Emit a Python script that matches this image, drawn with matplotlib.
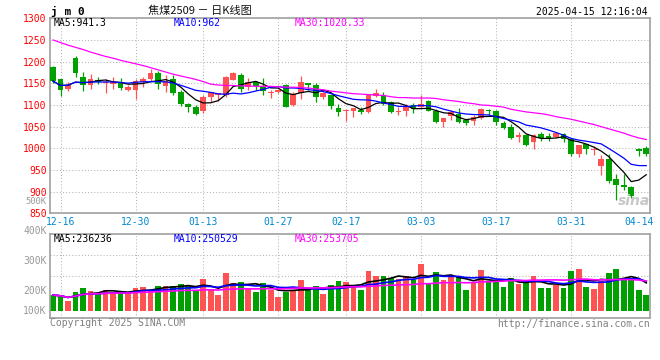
import numpy as np
import pandas as pd
import matplotlib
matplotlib.use('Agg')
import matplotlib.pyplot as plt

# Daily K-line data for 焦煤2509 (jm0)
opens = [1188, 1160, 1136, 1209, 1165, 1145, 1158, 1151, 1148, 1150,
         1134, 1134, 1154, 1161, 1174, 1143, 1161, 1131, 1103, 1096,
         1087, 1118, 1123, 1122, 1158, 1169, 1141, 1152, 1143, 1128,
         1129, 1147, 1099, 1128, 1151, 1145, 1119, 1122, 1094, 1085,
         1086, 1089, 1083, 1120, 1124, 1107, 1083, 1085, 1099, 1096,
         1110, 1086, 1060, 1075, 1078, 1066, 1064, 1069, 1089, 1087,
         1058, 1050, 1026, 1030, 1014, 1034, 1028, 1027, 1034, 1021,
         987, 1009, 997, 959, 976, 929, 915, 910, 999, 1001]
closes = [1155, 1135, 1147, 1174, 1146, 1161, 1153, 1154, 1153, 1139,
          1141, 1155, 1160, 1174, 1148, 1156, 1127, 1102, 1095, 1080,
          1119, 1129, 1127, 1164, 1174, 1137, 1154, 1143, 1132, 1131,
          1135, 1096, 1126, 1154, 1145, 1119, 1128, 1097, 1083, 1089,
          1094, 1083, 1123, 1128, 1102, 1083, 1086, 1095, 1091, 1103,
          1087, 1060, 1069, 1083, 1060, 1058, 1073, 1091, 1086, 1060,
          1047, 1023, 1030, 1007, 1030, 1024, 1023, 1035, 1022, 988,
          1007, 998, 999, 976, 925, 915, 910, 890, 993, 987]
highs = [1190, 1161, 1152, 1212, 1177, 1171, 1165, 1160, 1165, 1163,
         1145, 1161, 1164, 1183, 1179, 1169, 1169, 1135, 1105, 1100,
         1122, 1131, 1127, 1166, 1177, 1173, 1163, 1155, 1163, 1135,
         1137, 1148, 1131, 1167, 1151, 1151, 1129, 1124, 1102, 1091,
         1094, 1096, 1125, 1137, 1131, 1110, 1095, 1102, 1105, 1122,
         1112, 1090, 1071, 1089, 1094, 1068, 1077, 1093, 1091, 1089,
         1063, 1057, 1037, 1034, 1034, 1037, 1036, 1038, 1036, 1022,
         1008, 1011, 1005, 984, 988, 940, 941, 913, 1001, 1005]
lows = [1150, 1120, 1132, 1164, 1132, 1138, 1148, 1127, 1136, 1134,
        1132, 1114, 1141, 1155, 1138, 1131, 1122, 1097, 1083, 1078,
        1082, 1108, 1110, 1118, 1157, 1129, 1135, 1135, 1122, 1115,
        1128, 1095, 1097, 1114, 1135, 1108, 1114, 1091, 1074, 1064,
        1073, 1080, 1081, 1118, 1099, 1081, 1076, 1074, 1081, 1093,
        1085, 1058, 1049, 1065, 1059, 1054, 1053, 1067, 1077, 1053,
        1044, 1021, 1014, 1005, 999, 1016, 1018, 1025, 1014, 982,
        980, 987, 985, 938, 920, 881, 904, 886, 982, 982]
# volume in thousands of lots
volumes = [180, 172, 152, 195, 215, 202, 188, 205, 195, 195,
           188, 215, 220, 205, 225, 225, 225, 235, 225, 200,
           260, 205, 180, 290, 240, 245, 210, 197, 240, 205,
           170, 195, 205, 255, 205, 225, 185, 230, 250, 245,
           225, 205, 300, 275, 275, 265, 260, 277, 255, 335,
           240, 295, 255, 275, 275, 205, 245, 305, 250, 255,
           220, 265, 235, 240, 275, 215, 215, 230, 215, 300,
           310, 220, 210, 250, 290, 310, 255, 255, 205, 180]
ma30_price = [1250, 1244, 1238, 1233, 1228, 1222, 1217, 1212, 1208, 1203,
              1199, 1195, 1191, 1186, 1181, 1176, 1171, 1167, 1163, 1159,
              1154, 1148, 1146, 1145, 1145, 1144, 1144, 1143, 1143, 1143,
              1142, 1141, 1141, 1140, 1139, 1137, 1135, 1132, 1130, 1128,
              1126, 1125, 1124, 1123, 1122, 1119, 1117, 1117, 1116, 1116,
              1116, 1115, 1112, 1110, 1108, 1105, 1103, 1100, 1099, 1097,
              1095, 1090, 1087, 1084, 1082, 1080, 1077, 1073, 1070, 1067,
              1063, 1059, 1055, 1050, 1045, 1040, 1035, 1029, 1024, 1020.33]

tick_idx = [1, 11, 20, 30, 39, 49, 59, 69, 78]
tick_labels = ['12-16', '12-30', '01-13', '01-27', '02-17', '03-03', '03-17', '03-31', '04-14']
price_ticks = [1300, 1250, 1200, 1150, 1100, 1050, 1000, 950, 900, 850]
vol_labels = ['500K', '400K', '300K', '200K', '100K']
vol_label_y = [202, 231, 261, 291, 311]   # pixel rows of the labels in the original

RED = '#FF5252'
GREEN = '#00A000'
GRID = '#B4B4B4'
FRAME = '#A0A0A0'
DATE_BLUE = '#0088D0'
MONO = 'DejaVu Sans Mono'
W, H = 660, 360


def px(x, y):
    return x / W, 1 - y / H


def style_axes(ax):
    for s in ax.spines.values():
        s.set_color(FRAME)
        s.set_linewidth(1.2)
    ax.tick_params(length=0)
    ax.set_xlim(-0.4, 79.5)


fig = plt.figure(figsize=(6.6, 3.6), dpi=100)
ax = fig.add_axes([50 / W, 1 - 213.3 / H, 600 / W, 195 / H])
axv = fig.add_axes([50 / W, 1 - 318.3 / H, 600 / W, 84 / H])

x = np.arange(len(closes))
o = np.array(opens, dtype=float)
c = np.array(closes, dtype=float)
colors = np.where(c >= o, RED, GREEN)

# grid
for t in tick_idx[:-1]:
    ax.axvline(t, color=GRID, lw=0.75, ls=(0, (1, 2)), zorder=0)
    axv.axvline(t, color=GRID, lw=0.75, ls=(0, (1, 2)), zorder=0)
for p in price_ticks[1:-1]:
    ax.axhline(p, color=GRID, lw=0.75, ls=(0, (1, 2)), zorder=0)
for f in [0.25, 0.5, 0.75]:
    axv.plot([0, 1], [f, f], transform=axv.transAxes, color=GRID, lw=0.75, ls=(0, (1, 2)), zorder=0)

# candles
ax.vlines(x, lows, highs, colors=colors, lw=0.9, zorder=2)
ax.bar(x, np.maximum(np.abs(c - o), 2), bottom=np.minimum(o, c), width=0.76,
       color=colors, linewidth=0, zorder=3)

# moving averages
cs = pd.Series(c)
ax.plot(x, cs.rolling(5, min_periods=1).mean(), color='black', lw=0.9, zorder=4)
ax.plot(x, cs.rolling(10, min_periods=1).mean(), color='#0000FF', lw=0.9, zorder=4)
ax.plot(x, ma30_price, color='#FF00FF', lw=0.9, zorder=4)
ax.set_ylim(850, 1300)
ax.set_yticks(price_ticks)
ax.set_yticklabels([str(p) for p in price_ticks], color='#FF0000', family=MONO, fontsize=7)
ax.set_xticks(tick_idx)
ax.set_xticklabels(tick_labels, color=DATE_BLUE, family=MONO, fontsize=7)
ax.tick_params(axis='y', pad=2.4)
ax.tick_params(axis='x', pad=2.5)
style_axes(ax)

# volume
v = np.array(volumes, dtype=float)
axv.bar(x, v - 100, bottom=100, width=0.76, color=colors, linewidth=0, zorder=2)
vs = pd.Series(v)
axv.plot(x, vs.rolling(5, min_periods=1).mean(), color='black', lw=1.2, zorder=4)
axv.plot(x, vs.rolling(10, min_periods=1).mean(), color='#0000FF', lw=1.2, zorder=4)
axv.plot(x, vs.rolling(30, min_periods=1).mean(), color='#FF00FF', lw=1.2, zorder=4)
axv.set_ylim(63.5, 483.5)
axv.set_yticks([])
axv.set_xticks([])
style_axes(axv)

for lab, yy in zip(vol_labels, vol_label_y):
    fs = 6.3 if lab == '500K' else 7
    fig.text(*px(46.7, yy), lab, ha='right', va='center', color='#999999', family=MONO, fontsize=fs)

# header texts
fig.text(*px(51, 11), 'j m 0', ha='left', va='center', family=MONO, fontsize=8, fontweight='bold')
fig.text(*px(200, 11), '焦煤2509 － 日K线图', ha='center', va='center', fontsize=8,
         family=['Noto Sans CJK SC', 'DejaVu Sans'], color='#111111')
fig.text(*px(648, 12), '2025-04-15 12:16:04', ha='right', va='center', family=MONO, fontsize=7)

fig.text(*px(54, 23), 'MA5:941.3', ha='left', va='center', family=MONO, fontsize=7, color='black')
fig.text(*px(174, 23), 'MA10:962', ha='left', va='center', family=MONO, fontsize=7, color='#0000FF')
fig.text(*px(295, 23), 'MA30:1020.33', ha='left', va='center', family=MONO, fontsize=7, color='#FF00FF')
fig.text(*px(54, 239), 'MA5:236236', ha='left', va='center', family=MONO, fontsize=7, color='black')
fig.text(*px(174, 239), 'MA10:250529', ha='left', va='center', family=MONO, fontsize=7, color='#0000FF')
fig.text(*px(295, 239), 'MA30:253705', ha='left', va='center', family=MONO, fontsize=7, color='#FF00FF')

# footer and watermark
fig.text(*px(50, 323), 'Copyright 2025 SINA.COM', ha='left', va='center', family=MONO, fontsize=7, color='#808080')
fig.text(*px(650, 324), 'http://finance.sina.com.cn', ha='right', va='center', family=MONO, fontsize=7, color='#808080')
fig.text(*px(634, 201), 'sina', ha='center', va='center', fontsize=10, fontstyle='italic',
         fontweight='bold', color='#C8C8C8')

fig.savefig('out.png', dpi=100)
